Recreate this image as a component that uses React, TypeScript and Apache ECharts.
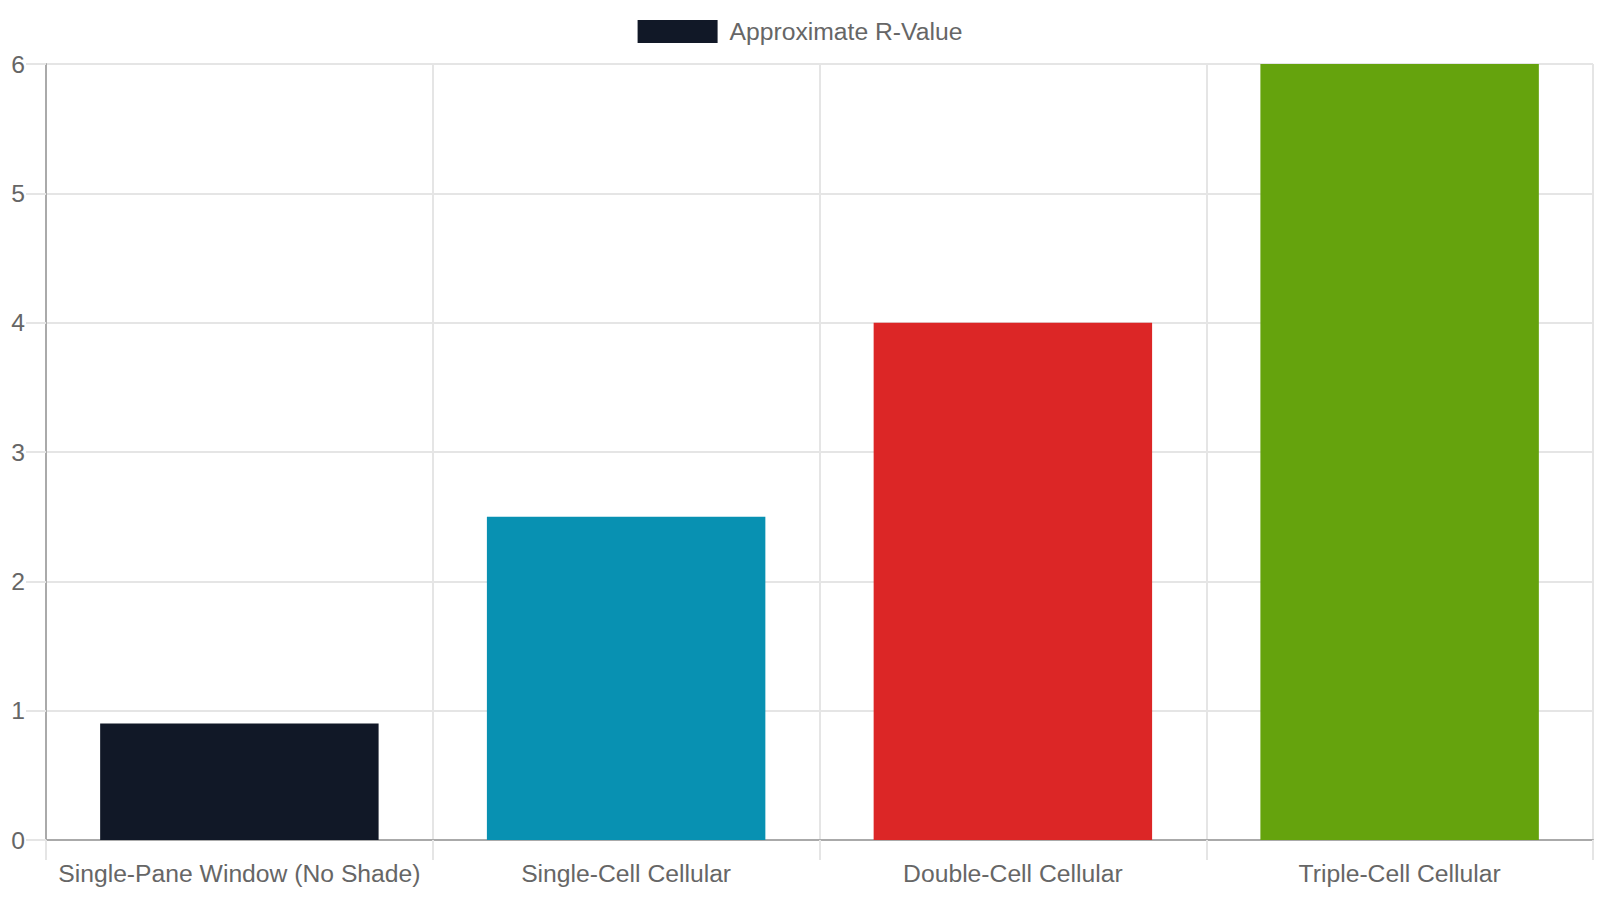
import React, { useEffect, useRef } from "react";
import * as echarts from "echarts";

const categories = [
  "Single-Pane Window (No Shade)",
  "Single-Cell Cellular",
  "Double-Cell Cellular",
  "Triple-Cell Cellular",
];
const rValues = [0.9, 2.5, 4, 6];
const barColors = ["#111827", "#0891b2", "#dc2626", "#65a30d"];
const seriesName = "Approximate R-Value";
const yTicks = { min: 0, max: 6, interval: 1 };

export default function App() {
  const ref = useRef<HTMLDivElement>(null);
  useEffect(() => {
    if (!ref.current) return;
    const chart = echarts.init(ref.current, undefined, { renderer: "svg" });
    const font = "'Liberation Sans', Arial, Helvetica, sans-serif";
    const fs = 24.7;
    chart.setOption({
      animation: false,
      backgroundColor: "#ffffff",
      textStyle: { fontFamily: font },
      legend: {
        top: 14,
        left: "center",
        itemWidth: 80,
        itemHeight: 23,
        icon: "rect",
        textStyle: { fontSize: fs, color: "#666666", fontFamily: font, padding: [0, 0, 0, 7] },
        data: [seriesName],
      },
      grid: { left: 46, right: 7, top: 64, bottom: 60, containLabel: false },
      xAxis: {
        type: "category",
        data: categories,
        boundaryGap: true,
        axisLine: { show: true, lineStyle: { color: "#aaaaaa", width: 2 } },
        axisTick: { show: true, length: 20, lineStyle: { color: "#e5e5e5", width: 2 } },
        splitLine: { show: true, lineStyle: { color: "#e5e5e5", width: 2 } },
        axisLabel: { fontSize: fs, color: "#666666", margin: 21, fontFamily: font, interval: 0 },
      },
      yAxis: {
        type: "value",
        min: yTicks.min,
        max: yTicks.max,
        interval: yTicks.interval,
        axisLine: { show: true, lineStyle: { color: "#aaaaaa", width: 2 } },
        axisTick: { show: true, length: 20, lineStyle: { color: "#e5e5e5", width: 2 } },
        splitLine: { show: true, lineStyle: { color: "#e5e5e5", width: 2 } },
        axisLabel: { fontSize: fs, color: "#666666", margin: 21, fontFamily: font },
      },
      series: [
        {
          name: seriesName,
          type: "bar",
          barCategoryGap: "28%",
          itemStyle: { color: barColors[0] },
          data: rValues.map((v, i) => ({ value: v, itemStyle: { color: barColors[i] } })),
        },
      ],
    });
    return () => chart.dispose();
  }, []);
  return (
    <div
      ref={ref}
      style={{ position: "fixed", left: 0, top: 0, width: 1600, height: 900, background: "#fff" }}
    />
  );
}
